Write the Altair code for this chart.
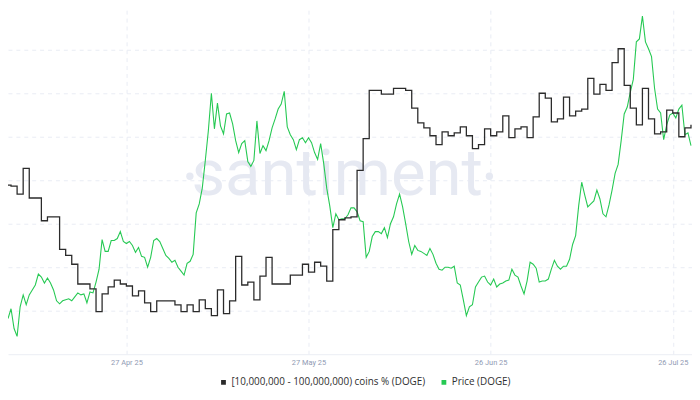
import altair as alt
import pandas as pd

# ---------------- data ----------------
series_names = ["[10,000,000 - 100,000,000) coins % (DOGE)", "Price (DOGE)"]

# daily share of supply held by 10M-100M DOGE wallets (%), from 2025-04-07
holders_start = "2025-04-07"
holders_pct = [
    12.15, 12.14, 12.06, 12.32, 12.02, 12.02, 11.79, 11.83, 11.83, 11.50,
    11.44, 11.35, 11.15, 11.15, 11.10, 10.87, 11.05, 11.12, 11.19, 11.15,
    11.13, 11.03, 11.08, 10.96, 10.87, 10.98, 10.98, 10.98, 10.94, 10.87,
    10.94, 10.87, 10.99, 10.90, 10.83, 11.09, 10.85, 10.98, 11.43, 11.14,
    11.17, 10.99, 11.23, 11.42, 11.15, 11.15, 11.15, 11.24, 11.24, 11.35,
    11.27, 11.37, 11.33, 11.18, 11.70, 11.80, 11.82, 11.83, 12.30, 12.62,
    13.11, 13.11, 13.07, 13.07, 13.13, 13.13, 13.11, 12.93, 12.78, 12.73,
    12.65, 12.56, 12.69, 12.65, 12.68, 12.74, 12.65, 12.52, 12.56, 12.72,
    12.65, 12.69, 12.85, 12.63, 12.72, 12.74, 12.63, 12.84, 13.08, 13.03,
    12.79, 12.82, 13.04, 12.85, 12.90, 12.92, 13.23, 13.07, 13.17, 13.11,
    13.39, 13.53, 13.16, 12.93, 12.76, 13.13, 12.82, 12.67, 12.69, 12.91,
    12.88, 12.64, 12.73, 12.76,
]

# DOGE price (USD), every 12 hours from 2025-04-07 12:00
price_start = "2025-04-07T12:00"
price_usd = [
    0.1400, 0.1450, 0.1350, 0.1310, 0.1460, 0.1520, 0.1470, 0.1520, 0.1545, 0.1570,
    0.1625, 0.1610, 0.1580, 0.1605, 0.1580, 0.1545, 0.1490, 0.1475, 0.1490, 0.1495,
    0.1500, 0.1490, 0.1510, 0.1530, 0.1520, 0.1525, 0.1480, 0.1535, 0.1530, 0.1585,
    0.1650, 0.1800, 0.1740, 0.1740, 0.1795, 0.1795, 0.1805, 0.1840, 0.1790, 0.1780,
    0.1790, 0.1770, 0.1735, 0.1760, 0.1715, 0.1710, 0.1660, 0.1710, 0.1795, 0.1805,
    0.1790, 0.1755, 0.1720, 0.1705, 0.1685, 0.1695, 0.1660, 0.1640, 0.1620, 0.1680,
    0.1690, 0.1725, 0.1935, 0.1980, 0.2060, 0.2200, 0.2350, 0.2540, 0.2360, 0.2490,
    0.2375, 0.2335, 0.2435, 0.2440, 0.2385, 0.2300, 0.2240, 0.2285, 0.2300, 0.2195,
    0.2170, 0.2200, 0.2400, 0.2235, 0.2275, 0.2250, 0.2300, 0.2365, 0.2410, 0.2460,
    0.2485, 0.2550, 0.2370, 0.2330, 0.2305, 0.2255, 0.2305, 0.2315, 0.2290, 0.2315,
    0.2290, 0.2240, 0.2205, 0.2285, 0.2185, 0.2060, 0.1970, 0.1860, 0.1930, 0.1900,
    0.1905, 0.1905, 0.1925, 0.1960, 0.1960, 0.1940, 0.1895, 0.1890, 0.1710, 0.1740,
    0.1815, 0.1840, 0.1840, 0.1830, 0.1860, 0.1810, 0.1880, 0.1915, 0.1980, 0.2030,
    0.1965, 0.1880, 0.1790, 0.1725, 0.1770, 0.1745, 0.1740, 0.1730, 0.1720, 0.1755,
    0.1725, 0.1680, 0.1650, 0.1645, 0.1660, 0.1660, 0.1655, 0.1665, 0.1580, 0.1570,
    0.1495, 0.1415, 0.1460, 0.1470, 0.1560, 0.1585, 0.1610, 0.1615, 0.1585, 0.1570,
    0.1600, 0.1560, 0.1575, 0.1580, 0.1590, 0.1595, 0.1650, 0.1620, 0.1610, 0.1565,
    0.1525, 0.1590, 0.1685, 0.1675, 0.1655, 0.1585, 0.1590, 0.1590, 0.1600, 0.1650,
    0.1695, 0.1665, 0.1650, 0.1665, 0.1665, 0.1700, 0.1775, 0.1820, 0.1970, 0.2090,
    0.2025, 0.1965, 0.1980, 0.1995, 0.2050, 0.2005, 0.1930, 0.1915, 0.1975, 0.2050,
    0.2135, 0.2180, 0.2300, 0.2435, 0.2470, 0.2545, 0.2610, 0.2800, 0.2815, 0.2930,
    0.2800, 0.2765, 0.2725, 0.2565, 0.2460, 0.2440, 0.2305, 0.2380, 0.2430, 0.2440,
    0.2415, 0.2460, 0.2480, 0.2330, 0.2340, 0.2275,
]

tick_dates = [(2025, 4, 27), (2025, 5, 27), (2025, 6, 26), (2025, 7, 26)]
price_grid = [0.144, 0.166, 0.188, 0.210, 0.232, 0.254, 0.276]

# ---------------- tables ----------------
holders_df = pd.DataFrame({
    "date": pd.date_range(holders_start, periods=len(holders_pct), freq="D").strftime("%Y-%m-%dT%H:%M:%S"),
    "holders": holders_pct,
    "series": series_names[0],
})
price_df = pd.DataFrame({
    "date": pd.date_range(price_start, periods=len(price_usd), freq="12h").strftime("%Y-%m-%dT%H:%M:%S"),
    "price": price_usd,
    "series": series_names[1],
})

FONT = "Roboto"
x_scale = alt.Scale(domain=[alt.DateTime(year=2025, month=4, date=7, hours=12),
                            alt.DateTime(year=2025, month=7, date=29, hours=4)], nice=False)
x_axis = alt.Axis(
    values=[alt.DateTime(year=y, month=m, date=d) for (y, m, d) in tick_dates],
    format="%d %b %y", title=None, ticks=False, grid=True, gridDash=[4, 4],
    gridColor="#e9ecf4", domainColor="#eceef4", labelColor="#8f9ab3",
    labelFontSize=7.5, labelFont=FONT, labelPadding=4,
)
color_scale = alt.Scale(domain=series_names, range=["#2b2b2b", "#26c953"])
legend = alt.Legend(
    title=None, orient="none", legendX=213, legendY=371, direction="horizontal",
    symbolType="square", symbolSize=6, symbolStrokeWidth=2.4, labelFontSize=10,
    labelFont="Open Sans", labelColor="#2f2f2f", columnPadding=11, labelOffset=3,
    labelLimit=400,
)

price_line = alt.Chart(price_df).mark_line(strokeWidth=1.1, clip=True).encode(
    x=alt.X("date:T", scale=x_scale, axis=x_axis),
    y=alt.Y("price:Q", scale=alt.Scale(domain=[0.122, 0.296], zero=False, nice=False),
            axis=alt.Axis(values=price_grid, labels=False, ticks=False, domain=False,
                          title=None, grid=True, gridDash=[4, 4], gridColor="#e9ecf4")),
    color=alt.Color("series:N", scale=color_scale, legend=legend),
)

holders_line = alt.Chart(holders_df).mark_line(strokeWidth=1.3, interpolate="step-after", clip=True).encode(
    x=alt.X("date:T", scale=x_scale),
    y=alt.Y("holders:Q", scale=alt.Scale(domain=[10.44, 13.92], zero=False, nice=False), axis=None),
    color=alt.Color("series:N", scale=color_scale, legend=legend),
)

mark_df = pd.DataFrame({"label": ["santiment"]})
watermark = alt.Chart(mark_df).mark_text(
    fontSize=66, font=FONT, color="#e6e9f2", align="center", baseline="alphabetic",
).encode(text="label:N", x=alt.value(333), y=alt.value(187))
dots = alt.Chart(pd.DataFrame({"px": [184, 487]})).mark_circle(
    size=55, color="#e6e9f2", opacity=1
).encode(x=alt.X("px:Q", scale=None), y=alt.value(168))

chart = alt.layer(watermark, dots, price_line, holders_line).resolve_scale(
    y="independent"
).properties(
    width=692, height=348, padding={"left": 0, "top": 0, "right": 0, "bottom": 0},
    background="white",
).configure_view(stroke=None)

chart.save("out.html", embed_options={"renderer": "svg", "actions": False})
